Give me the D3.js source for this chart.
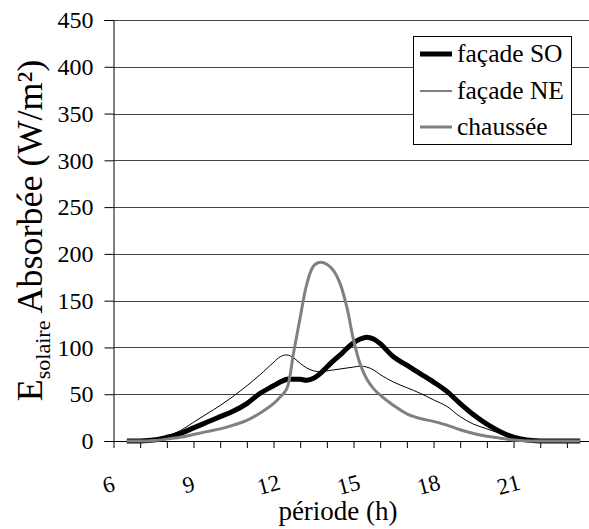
<!DOCTYPE html>
<html>
<head>
<meta charset="utf-8">
<script src="https://cdn.jsdelivr.net/npm/d3@7"></script>
<style>
  html, body { margin: 0; padding: 0; background: #fff; }
  svg text { font-family: 'Liberation Serif', 'Times New Roman', Times, serif; }
</style>
</head>
<body>
<svg id="chart" width="589" height="529"></svg>
<script>
// ---- data ----
const hours = [6.5,7,7.5,8,8.5,9,9.5,10,10.5,11,11.5,12,12.25,12.5,12.75,13,13.25,13.5,13.75,14,14.25,14.5,14.75,15,15.25,15.5,15.75,16,16.5,17,17.5,18,18.5,19,19.5,20,20.5,21,21.5,22,22.5,23,23.5];
const facadeSO = [0,0,1,4,8,14,20,26,32,40,51,59,63,66,66,66,65,67,72,79,86,92,99,105,109,111,109,104,90,81,72,63,53,40,28,18,10,4,1,0,0,0,0];
const facadeNE = [0,0,1,5,11,20,29,38,48,59,71,84,90,92,89,83,78,75,74,75,76,77,78,79,80,79,76,71,63,57,51,44,37,26,18,13,8,3,0.5,0,0,0,0];
const chaussee = [0,0,0.5,2,4,7,10,13,17,22,30,40,47,56,94,132,168,187,191,189,182,168,143,108,82,66,56,49,38,29,24,21,17,12,8,5,3,1,0,0,0,0,0];
const seriesNames = ["façade SO", "façade NE", "chaussée"];
const yTicks = [0,50,100,150,200,250,300,350,400,450];
const xTickLabels = [6,9,12,15,18,21];
const xMinorTicks = d3.range(6, 24, 1);

const FONT = "'Liberation Serif', 'Times New Roman', Times, serif";

// ---- layout ----
const svg = d3.select("#chart");
const plotLeft = 113.5, plotTop = 20, plotBottom = 441;
const x = d3.scaleLinear().domain([6, 24]).range([plotLeft, plotLeft + 18 * 26.67]);
const y = d3.scaleLinear().domain([0, 450]).range([plotBottom, plotTop]);

// gridlines
svg.append("g").selectAll("line").data(yTicks.filter(d => d > 0)).join("line")
  .attr("x1", plotLeft).attr("x2", 589)
  .attr("y1", d => Math.round(y(d)) + 0.5).attr("y2", d => Math.round(y(d)) + 0.5)
  .attr("stroke", "#444").attr("stroke-width", 1);

// y axis
const yAxis = d3.axisLeft(y).tickValues(yTicks).tickSize(9).tickPadding(11);
const gy = svg.append("g").attr("transform", `translate(${plotLeft},0)`).call(yAxis)
  .attr("font-family", FONT).attr("font-size", 24);
gy.select(".domain").attr("stroke", "#000");
gy.selectAll(".tick line").attr("stroke", "#000");
gy.selectAll(".tick text").attr("font-size", 24).attr("font-family", FONT).attr("fill", "#000");

// x axis
const xAxis = d3.axisBottom(x).tickValues(xMinorTicks).tickSize(7).tickFormat("");
const gx = svg.append("g").attr("transform", `translate(0,${plotBottom})`).call(xAxis);
gx.select(".domain").attr("stroke", "#000").attr("d", `M${plotLeft},0.5H589`);
gx.selectAll(".tick line").attr("stroke", "#000");

// x tick labels (rotated)
svg.append("g").selectAll("text").data(xTickLabels).join("text")
  .attr("transform", d => `translate(${x(d) - 3},${plotBottom + 51}) rotate(-15)`)
  .attr("text-anchor", "middle")
  .attr("font-family", FONT)
  .attr("font-size", 23)
  .text(d => d);

// axis titles
svg.append("text")
  .attr("x", 338).attr("y", 520)
  .attr("text-anchor", "middle")
  .attr("font-family", FONT)
  .attr("font-size", 27)
  .text("période (h)");

const yt = svg.append("text")
  .attr("transform", `translate(42,${(plotTop + plotBottom) / 2}) rotate(-90)`)
  .attr("text-anchor", "middle")
  .attr("font-family", FONT)
  .attr("font-size", 36);
yt.append("tspan").text("E");
yt.append("tspan").attr("font-size", 22).attr("dy", 8).text("solaire");
yt.append("tspan").attr("dy", -8).text(" Absorbée (W/m²)");

// lines
const styles = [
  { vals: facadeSO, color: "#000", width: 5 },
  { vals: facadeNE, color: "#000", width: 1 },
  { vals: chaussee, color: "#808080", width: 3 }
];
const line = d3.line().x((d, i) => x(hours[i])).y(d => y(d)).curve(d3.curveCatmullRom.alpha(0.5));
const drawOrder = [1, 0, 2];
drawOrder.forEach(k => {
  svg.append("path").datum(styles[k].vals)
    .attr("d", line)
    .attr("fill", "none")
    .attr("stroke", styles[k].color)
    .attr("stroke-width", styles[k].width)
    .attr("stroke-linejoin", "round");
});

// legend
const lg = svg.append("g");
lg.append("rect").attr("x", 413.5).attr("y", 36.5).attr("width", 158).attr("height", 108)
  .attr("fill", "#fff").attr("stroke", "#000").attr("stroke-width", 1);
const rowsY = [54, 91, 127];
seriesNames.forEach((name, i) => {
  lg.append("line").attr("x1", 420).attr("x2", 452).attr("y1", rowsY[i]).attr("y2", rowsY[i])
    .attr("stroke", styles[i].color).attr("stroke-width", styles[i].width);
  lg.append("text").attr("x", 457).attr("y", rowsY[i]).attr("dy", "0.33em")
    .attr("font-family", FONT)
    .attr("font-size", 25.5).text(name);
});
</script>
</body>
</html>
